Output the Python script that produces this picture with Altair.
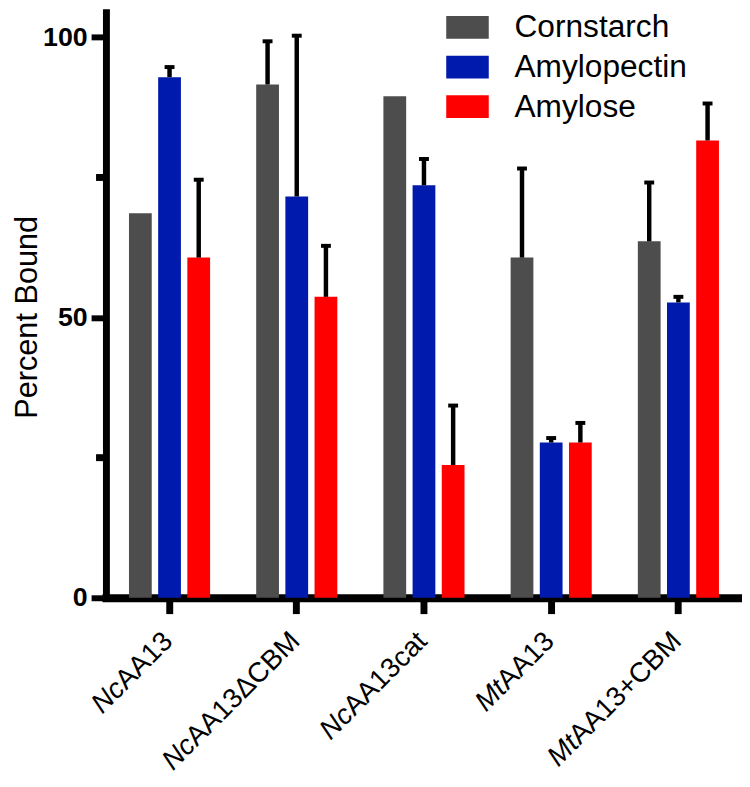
import altair as alt
import pandas as pd

groups = ["NcAA13", "NcAA13ΔCBM", "NcAA13cat", "MtAA13", "MtAA13+CBM"]
label_prefix = ["Nc", "Nc", "Nc", "Mt", "Mt"]
label_suffix = ["AA13", "AA13ΔCBM", "AA13cat", "AA13", "AA13+CBM"]
series = ["Cornstarch", "Amylopectin", "Amylose"]
cornstarch = [68.6, 91.6, 89.5, 60.7, 63.6]
cornstarch_err = [0.0, 7.7, 0.0, 15.9, 10.5]
amylopectin = [92.9, 71.6, 73.6, 27.7, 52.7]
amylopectin_err = [1.8, 28.7, 4.7, 0.8, 1.0]
amylose = [60.7, 53.7, 23.7, 27.7, 81.6]
amylose_err = [13.9, 9.1, 10.6, 3.5, 6.6]
colors = ["#4d4d4d", "#001aad", "#ff0000"]
y_ticks = [0, 50, 100]
minor_ticks = [25, 75]

rows = []
for s, vals, errs in zip(series, [cornstarch, amylopectin, amylose],
                         [cornstarch_err, amylopectin_err, amylose_err]):
    for g, v, e in zip(groups, vals, errs):
        rows.append({"group": g, "series": s, "value": v, "err": e, "top": v + e})
df = pd.DataFrame(rows)
lab = pd.DataFrame({"group": groups, "prefix": label_prefix, "suffix": label_suffix})
minor = pd.DataFrame({"v": minor_ticks})

W, H = 643, 592
FONT = "Liberation Sans"
LFS = 28
LDX, LDY = -7, -8.5
# Arial / Liberation Sans advance widths (1/1000 em), used to join italic prefix and upright suffix
ADV = {"A": 667, "1": 556, "3": 556, "c": 500, "a": 556, "t": 278, "C": 722,
       "B": 667, "M": 833, "+": 584, "Δ": 667, "N": 722}


def text_width(s):
    return sum(ADV.get(ch, 556) for ch in s) * LFS / 1000.0


xscale = alt.Scale(domain=groups, paddingInner=0, paddingOuter=0)
xaxis = alt.Axis(title=None, labels=False, domainColor="black", domainWidth=8,
                 tickColor="black", tickWidth=7, tickSize=16)
yscale = alt.Scale(domain=[0, 104.5], nice=False)
yaxis = alt.Axis(values=y_ticks, title="Percent Bound", domainColor="black", domainWidth=7,
                 tickColor="black", tickWidth=6, tickSize=15, labelFontSize=27,
                 labelFontWeight="bold",
                 labelFont=FONT, labelColor="black", labelPadding=4, grid=False,
                 titleFont=FONT, titleFontSize=31, titleFontWeight="normal",
                 titleColor="black", titleAngle=270, titleAlign="center",
                 titleBaseline="alphabetic", titleX=-70, titleY=308)


def X():
    return alt.X("group:N", sort=groups, scale=xscale, axis=xaxis)


def XO():
    return alt.XOffset("series:N", sort=series,
                       scale=alt.Scale(domain=series, paddingInner=0.22, paddingOuter=0.79))


def Y(field):
    return alt.Y(field, scale=yscale, axis=yaxis, title="Percent Bound")


bars = alt.Chart(df).mark_bar().encode(
    x=X(), xOffset=XO(), y=Y("value:Q"),
    color=alt.Color("series:N", sort=series,
                    scale=alt.Scale(domain=series, range=colors),
                    legend=alt.Legend(title=None, orient="none", legendX=344, legendY=-6,
                                      symbolType="M-1,-0.535H1V0.535H-1Z", symbolSize=1849,
                                      symbolStrokeWidth=0, labelFontSize=32, labelFont=FONT,
                                      labelColor="black", labelOffset=26, rowPadding=2,
                                      labelLimit=0)),
)

errs = alt.Chart(df).transform_filter("datum.err > 0").mark_rule(
    color="black", strokeWidth=4.5).encode(
    x=X(), xOffset=XO(), y=Y("value:Q"), y2="top:Q")

caps = alt.Chart(df).transform_filter("datum.err > 0").mark_tick(
    color="black", thickness=4, size=10, orient="horizontal", opacity=1).encode(
    x=X(), xOffset=XO(), y=Y("top:Q"))

minor_rules = alt.Chart(minor).mark_rule(color="black", strokeWidth=7).encode(
    y=Y("v:Q"), x=alt.value(-10), x2=alt.value(0))

suffix_text = alt.Chart(lab).mark_text(
    angle=315, align="right", baseline="top", font=FONT, fontSize=LFS, color="black",
    dx=LDX, dy=LDY).encode(
    x=X(), y=alt.value(H + 31), text="suffix:N")

prefix_layers = []
for g, suf in zip(groups, label_suffix):
    prefix_layers.append(
        alt.Chart(lab).transform_filter(alt.datum.group == g).mark_text(
            angle=315, align="right", baseline="top", font=FONT, fontSize=LFS,
            fontStyle="italic", color="black", dx=LDX - text_width(suf), dy=LDY).encode(
            x=X(), y=alt.value(H + 31), text="prefix:N"))

chart = alt.layer(bars, errs, caps, minor_rules, suffix_text, *prefix_layers).properties(
    width=W, height=H,
    autosize=alt.AutoSizeParams(type="none"),
    padding={"left": 99, "top": 0, "right": 0, "bottom": 179},
).configure_view(stroke=None).configure_axis(domainCap="square")

chart.save("out.html", embed_options={"renderer": "svg", "actions": False})
